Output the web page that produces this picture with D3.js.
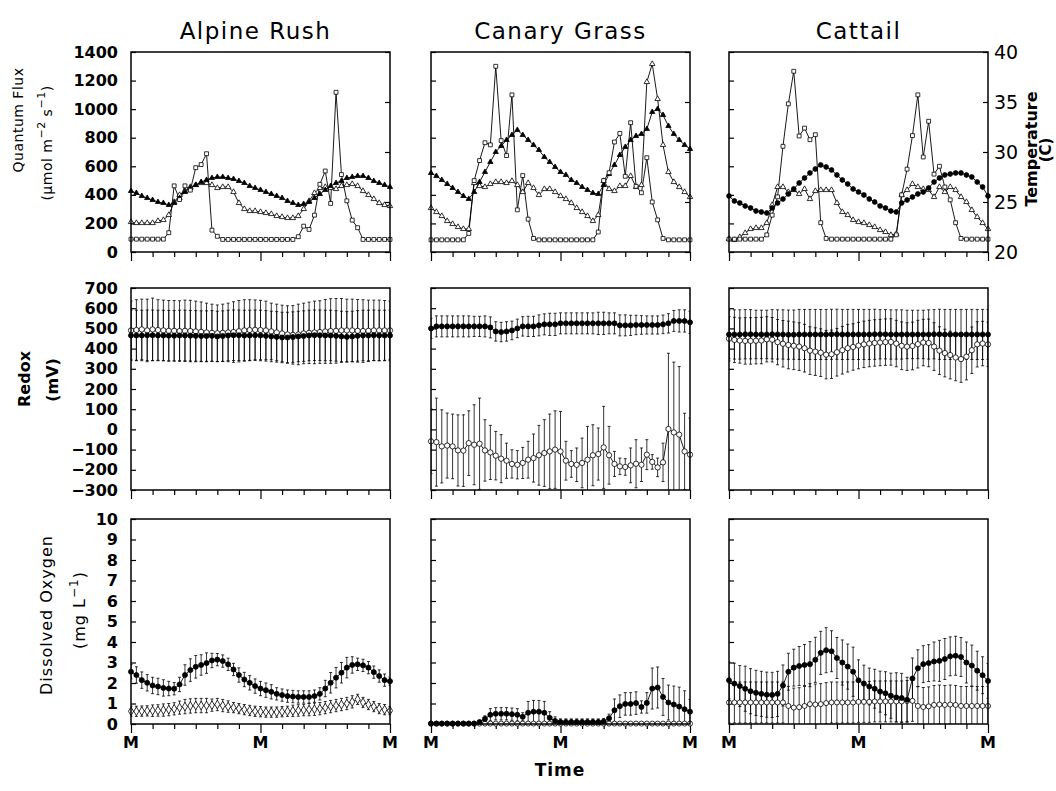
<!DOCTYPE html>
<html>
<head>
<meta charset="utf-8">
<script src="https://cdn.jsdelivr.net/npm/d3@7"></script>
<style>
  body { margin: 0; background: #fff; }
</style>
</head>
<body>
<div id="chart"></div>
<script>
// Diel quantum flux / temperature, redox and dissolved oxygen for three plants (hourly, two days)

const hours = d3.range(0, 49);
const plants = ["Alpine Rush", "Canary Grass", "Cattail"];

// ---- Row 1: quantum flux (umol m-2 s-1) and two temperatures (C)
const alpineFlux = [90,90,90,90,90,90,90,135,463,367, 463,433,590,612,688,153,110,88,88,88,
  88,88,88,88,88,88,88,88,88,88, 88,107,181,158,258,474,567,340,1118,542, 358,223,170,88,88,88,88,88,88];
const alpineTempA = [26.1,25.9,25.6,25.4,25.2,25.0,24.9,24.7,24.9,25.4, 26.0,26.4,26.7,27.0,27.2,27.4,27.5,27.5,27.4,27.3,
  27.1,26.9,26.6,26.4,26.2,26.0,25.8,25.6,25.4,25.1, 24.9,24.7,24.8,25.0,25.4,25.8,26.2,26.6,26.9,27.1,
  27.4,27.5,27.6,27.6,27.4,27.1,26.9,26.7,26.5];
const alpineTempB = [23.0,22.9,22.9,22.9,22.9,23.1,23.2,23.7,25.0,25.7, 26.1,26.5,26.7,26.9,26.9,26.7,26.4,26.5,26.5,26.0,
  24.9,24.3,24.1,24.1,24.0,23.9,23.8,23.6,23.5,23.4, 23.4,23.6,24.3,25.1,25.9,26.4,26.5,26.4,26.3,26.6,
  26.7,26.8,26.6,26.1,25.7,25.3,24.9,24.7,24.6];

const canaryFlux = [85,85,85,85,85,85,85,130,500,640, 765,750,1300,780,675,1100,295,535,230,95,
  85,85,85,85,85,85,85,85,85,85, 85,140,500,555,770,830,530,905,460,415, 660,350,225,95,85,85,85,85,85];
const canaryTempA = [27.9,27.6,27.2,26.8,26.4,26.0,25.6,25.3,26.0,27.0, 28.0,29.0,30.0,30.6,31.2,31.7,32.2,31.7,31.2,30.7,
  30.2,29.5,29.0,28.5,28.0,27.7,27.2,26.9,26.5,26.2, 25.9,25.8,26.7,27.8,28.7,29.7,30.5,31.2,31.6,31.8,
  32.3,34.0,34.3,33.7,32.6,31.8,31.2,30.7,30.3];
const canaryTempB = [24.4,24.0,23.6,23.1,22.8,22.5,22.3,22.3,26.9,26.6, 26.5,26.8,27.0,27.0,26.9,27.1,26.7,26.0,26.9,26.4,
  25.7,26.3,26.3,26.0,25.6,25.3,24.9,24.4,24.0,23.6, 23.1,23.7,27.1,26.3,26.1,26.6,26.6,27.6,26.5,26.7,
  37.0,38.8,35.3,30.7,28.0,27.0,26.5,26.0,25.5];

const cattailFlux = [90,90,90,90,90,90,90,120,258,386, 740,1037,1265,812,867,786,821,205,95,90,
  90,90,90,90,90,90,90,90,90,90, 90,120,400,580,815,1100,665,915,545,600, 455,365,205,95,90,90,90,90,90];
const cattailTempA = [25.6,25.1,24.9,24.6,24.4,24.1,24.0,23.9,24.4,24.9, 25.3,25.8,26.3,26.9,27.4,27.9,28.3,28.7,28.5,28.2,
  27.7,27.2,26.8,26.3,26.0,25.7,25.3,25.0,24.6,24.4, 24.1,24.0,24.9,25.2,25.5,25.8,26.0,26.4,27.0,27.4,
  27.7,27.8,27.9,27.9,27.7,27.5,27.0,26.5,25.6];
const cattailTempB = [21.3,21.2,21.5,21.9,22.3,22.4,22.4,22.9,24.7,26.5, 26.5,26.0,26.2,25.8,26.3,25.3,26.1,26.2,26.2,26.2,
  24.9,24.0,23.7,23.2,23.0,22.9,22.7,22.5,22.2,22.0, 21.7,21.8,25.7,26.2,26.8,26.5,26.3,26.2,25.5,26.5,
  26.0,26.5,26.2,25.5,25.0,24.2,23.5,22.9,22.3];

// ---- Row 2: redox (mV), mean and error
const alpineRedoxOpen = [490,492,495,490,495,492,490,488,488,487, 488,487,485,483,480,478,476,478,480,482,
  486,490,492,493,492,490,485,480,475,470, 468,470,475,478,480,482,485,487,488,490, 490,490,488,487,488,490,490,490,490];
const alpineRedoxOpenErr = [145,150,150,155,155,150,150,150,150,150, 152,152,150,148,145,142,140,142,145,150,
  152,152,150,148,147,145,140,140,140,142, 145,150,150,152,155,155,158,160,160,158, 155,155,155,155,152,150,150,148,145];
const alpineRedoxFilled = [465,465,465,466,466,465,465,464,464,465, 465,464,463,462,462,463,460,462,465,466,
  466,465,465,466,465,463,460,458,455,455, 457,460,462,465,466,466,465,465,463,460, 458,460,463,465,465,466,465,465,465];
const alpineRedoxFilledErr = [125,125,125,125,125,125,125,125,125,125, 125,125,125,125,125,125,125,125,125,125,
  125,125,125,125,125,125,125,125,125,125, 125,125,125,125,125,125,125,125,125,125, 125,125,125,125,125,125,125,125,125];

const canaryRedoxFilled = [500,510,510,510,510,510,510,510,510,510, 510,505,485,482,485,490,500,510,510,510,
  515,520,520,520,525,525,525,525,525,525, 525,525,525,525,525,515,515,515,517,517, 517,517,517,520,525,537,537,537,530];
const canaryRedoxFilledErr = [50,52,52,52,52,52,52,52,50,50, 52,52,48,48,48,46,46,48,50,50,
  52,52,55,55,52,52,52,52,52,52, 52,55,55,52,52,52,52,50,48,46, 45,45,45,46,48,52,55,55,55];
const canaryRedoxOpen = [-59,-63,-84,-80,-84,-104,-105,-68,-76,-71, -104,-114,-130,-145,-155,-171,-175,-166,-150,-142,
  -128,-117,-109,-100,-109,-155,-171,-175,-166,-150, -128,-122,-89,-128,-171,-183,-186,-178,-170,-175,
  -125,-161,-188,-163,2,-15,-26,-109,-125];
const canaryRedoxOpenErr = [160,218,181,161,160,176,177,160,198,226, 152,134,120,119,87,70,70,77,91,119,
  148,165,185,192,198,96,66,83,123,165, 151,129,203,143,62,41,41,86,119,83, 74,36,46,95,375,348,337,189,181];

const cattailRedoxFilled = [470,470,470,471,471,470,470,470,471,470, 470,469,469,470,470,470,470,470,470,471,
  471,470,470,470,470,470,470,471,471,471, 470,470,470,470,470,470,470,470,471,471, 470,470,470,470,470,470,470,470,470];
const cattailRedoxFilledErr = [120,122,122,122,122,120,120,120,122,122, 122,122,122,124,124,124,124,124,124,124,
  124,124,124,124,124,124,124,124,122,122, 122,122,122,120,120,120,120,122,122,124, 124,124,124,124,124,124,124,124,124];
const cattailRedoxOpen = [449,443,440,438,438,439,440,446,444,432, 424,418,414,410,402,390,385,380,370,372,
  382,392,402,408,415,421,425,428,430,432, 433,425,414,410,413,422,430,428,410,390, 378,368,356,348,360,392,421,425,421];
const cattailRedoxOpenErr = [110,112,112,115,115,115,115,112,110,112, 115,118,118,118,118,118,118,118,120,120,
  118,118,118,115,115,115,115,115,115,115, 115,115,118,118,118,118,115,118,118,118, 118,118,115,115,115,115,112,110,110];

// ---- Row 3: dissolved oxygen (mg L-1), mean and error
const alpineDOFilled = [2.55,2.39,2.14,2.01,1.88,1.83,1.76,1.73,1.72,1.93, 2.39,2.63,2.79,2.88,2.97,3.10,3.14,3.07,2.91,2.66,
  2.39,2.17,2.01,1.85,1.73,1.65,1.57,1.47,1.41,1.36, 1.34,1.32,1.32,1.32,1.36,1.47,1.73,2.01,2.26,2.50,
  2.75,2.88,2.91,2.86,2.75,2.53,2.34,2.14,2.09];
const alpineDOFilledErr = [0.35,0.40,0.40,0.40,0.40,0.40,0.40,0.35,0.30,0.35, 0.50,0.55,0.55,0.50,0.50,0.35,0.30,0.30,0.30,0.30,
  0.35,0.35,0.35,0.35,0.35,0.35,0.35,0.30,0.30,0.30, 0.30,0.30,0.30,0.30,0.30,0.30,0.40,0.50,0.50,0.50,
  0.50,0.40,0.30,0.30,0.30,0.30,0.30,0.30,0.20];
const alpineDOOpen = [0.62,0.62,0.63,0.64,0.65,0.66,0.68,0.70,0.74,0.80, 0.85,0.88,0.90,0.90,0.90,0.92,0.95,0.90,0.85,0.80,
  0.75,0.70,0.66,0.62,0.60,0.58,0.58,0.58,0.60,0.62, 0.64,0.66,0.68,0.70,0.72,0.75,0.80,0.85,0.90,0.95,
  1.00,1.08,1.20,1.05,0.95,0.85,0.75,0.70,0.65];
const alpineDOOpenErr = [0.25,0.25,0.25,0.25,0.28,0.28,0.30,0.30,0.30,0.32, 0.35,0.35,0.35,0.35,0.35,0.30,0.30,0.30,0.28,0.25,
  0.25,0.25,0.25,0.25,0.25,0.25,0.25,0.25,0.25,0.25, 0.28,0.28,0.28,0.30,0.30,0.30,0.30,0.30,0.30,0.30,
  0.30,0.30,0.25,0.25,0.25,0.25,0.25,0.25,0.20];

const canaryDOFilled = [0.02,0.02,0.02,0.02,0.02,0.02,0.02,0.02,0.02,0.10, 0.25,0.45,0.50,0.50,0.50,0.48,0.45,0.35,0.55,0.60,
  0.60,0.55,0.30,0.15,0.10,0.10,0.10,0.10,0.10,0.10, 0.10,0.10,0.12,0.28,0.67,0.87,0.98,0.98,1.02,0.83,
  1.03,1.73,1.78,1.32,1.05,0.95,0.85,0.72,0.60];
const canaryDOFilledErr = [0,0,0,0,0,0,0,0,0,0, 0.15,0.30,0.30,0.30,0.30,0.30,0.30,0.20,0.55,0.55,
  0.55,0.55,0.30,0.20,0.15,0.15,0.15,0.15,0.15,0.15, 0.15,0.15,0.15,0.20,0.55,0.55,0.55,0.55,0.55,0.30,
  0.50,1.00,1.00,0.90,0.85,0.90,0.95,0.90,0.60];
const canaryDOOpen = [0.02,0.02,0.02,0.02,0.02,0.02,0.02,0.02,0.02,0.02, 0.02,0.02,0.02,0.02,0.02,0.02,0.02,0.02,0.02,0.02,
  0.02,0.02,0.02,0.02,0.02,0.02,0.02,0.02,0.02,0.02, 0.02,0.02,0.02,0.02,0.02,0.02,0.02,0.02,0.02,0.02,
  0.02,0.02,0.02,0.02,0.02,0.02,0.02,0.02,0.02];

const cattailDOFilled = [2.13,1.97,1.85,1.72,1.60,1.52,1.47,1.43,1.42,1.47, 1.88,2.55,2.75,2.83,2.88,2.92,3.13,3.47,3.60,3.55,
  3.22,3.00,2.80,2.55,2.13,1.97,1.83,1.72,1.58,1.50, 1.38,1.30,1.27,1.18,2.22,2.72,2.92,2.97,3.05,3.08,
  3.17,3.30,3.33,3.27,3.00,2.85,2.60,2.38,2.10];
const cattailDOFilledErr = [0.90,1.00,1.00,1.10,1.10,1.10,1.10,1.10,1.10,1.10, 1.00,0.90,0.90,0.95,1.00,1.10,1.10,1.05,1.10,1.00,
  1.00,1.10,1.10,1.20,1.00,0.90,0.90,0.95,1.00,1.05, 1.10,1.20,1.20,1.10,1.00,0.90,0.90,0.90,0.95,1.00,
  1.00,0.95,0.95,0.95,1.00,1.00,0.95,0.90,0.85];
const cattailDOOpen = [1.05,1.05,1.05,1.05,1.05,1.05,1.05,1.05,1.05,1.05, 1.05,0.88,0.80,0.82,0.88,0.97,0.95,0.97,1.02,1.05,
  1.05,1.05,1.05,1.05,1.08,1.08,1.08,1.10,1.10,1.10, 1.10,1.10,1.10,1.12,1.13,0.88,0.83,0.86,0.93,0.95,
  0.93,0.95,0.93,0.88,0.88,0.88,0.88,0.88,0.88];
const cattailDOOpenErr = [1.00,1.00,1.00,1.00,1.00,1.00,1.00,1.00,1.00,1.00, 1.00,0.95,0.95,0.95,0.95,1.00,1.00,1.00,1.00,1.00,
  1.00,1.00,1.00,1.00,1.00,1.00,1.00,1.00,1.00,1.00, 1.00,1.00,1.00,1.00,1.00,0.95,0.95,0.95,0.95,0.95,
  0.95,0.95,0.95,0.95,0.95,0.95,0.95,0.95,0.95];

// ---- tick values
const fluxTicks = [0,200,400,600,800,1000,1200,1400];
const tempTicks = [20,25,30,35,40];
const redoxTicks = [-300,-200,-100,0,100,200,300,400,500,600,700];
const doTicks = [0,1,2,3,4,5,6,7,8,9,10];
const timeTicks = [0,4,8,12,16,20,24,28,32,36,40,44,48];
const midnights = [0,24,48];

// ---- layout
const W = 1056, H = 791;
const FONT = "'DejaVu Sans', Verdana, sans-serif";
const colX = [131, 431, 729];
const colW = 259;
const rows = [
  { top: 52, bottom: 252 },
  { top: 288, bottom: 490 },
  { top: 519, bottom: 724 }
];

const svg = d3.select("#chart").append("svg")
  .attr("width", W).attr("height", H)
  .style("background", "#fff");

const x = d3.scaleLinear().domain([0, 48]).range([0, colW]);

const shapes = {
  square: d3.symbolSquare,
  triangle: d3.symbolTriangle,
  circle: d3.symbolCircle,
  diamond: d3.symbolDiamond
};

function styleTicks(a, show) {
  a.select(".domain").remove();
  a.selectAll(".tick line").attr("stroke", "#000").attr("stroke-width", 1.2);
  a.selectAll("text")
    .attr("fill", "#000")
    .attr("font-family", FONT)
    .attr("font-weight", "bold")
    .attr("font-size", 16)
    .style("display", show ? null : "none");
}

function drawPanel(ri, ci, leftScale, leftTicks, series, rightScale) {
  const r = rows[ri];
  const h = r.bottom - r.top;
  const g = svg.append("g").attr("transform", `translate(${colX[ci]},${r.top})`);

  const clipId = `clip-${ri}-${ci}`;
  g.append("clipPath").attr("id", clipId)
    .append("rect").attr("width", colW).attr("height", h);

  // left ticks (inside)
  g.append("g")
    .call(d3.axisLeft(leftScale).tickValues(leftTicks).tickSize(-5).tickPadding(13).tickFormat(d3.format("d")))
    .call(a => styleTicks(a, ci === 0));

  // right temperature ticks (top row)
  if (rightScale) {
    g.append("g").attr("transform", `translate(${colW},0)`)
      .call(d3.axisRight(rightScale).tickValues(tempTicks).tickSize(-5).tickPadding(6).tickFormat(d3.format("d")))
      .call(a => styleTicks(a, ci === 2))
      .call(a => a.selectAll("text").attr("font-weight", "normal").attr("font-size", 19));
  }

  // bottom time ticks (outside), longer at midnight
  g.append("g").attr("transform", `translate(0,${h})`)
    .call(d3.axisBottom(x).tickValues(timeTicks).tickSize(5).tickFormat(""))
    .call(a => styleTicks(a, false))
    .call(a => a.selectAll(".tick line").attr("y2", d => midnights.includes(d) ? 9 : 5));

  if (ri === 2) {
    g.selectAll("text.mlabel")
      .data(midnights)
      .join("text")
      .attr("class", "mlabel")
      .attr("x", d => x(d))
      .attr("y", h + 24)
      .attr("text-anchor", "middle")
      .attr("font-family", FONT)
      .attr("font-weight", "bold")
      .attr("font-size", 16)
      .text("M");
  }

  const plots = series.map(s => ({
    s,
    pts: s.values.map((v, i) => ({ h: hours[i], v, e: s.errors ? s.errors[i] : 0 }))
  }));

  // error bars
  const eb = g.append("g").attr("clip-path", `url(#${clipId})`);
  plots.filter(p => p.s.errors).forEach(({ s, pts }) => {
    const bars = eb.append("g").selectAll("g").data(pts.filter(d => d.e > 0)).join("g");
    bars.append("line")
      .attr("x1", d => x(d.h)).attr("x2", d => x(d.h))
      .attr("y1", d => s.y(d.v - d.e)).attr("y2", d => s.y(d.v + d.e))
      .attr("stroke", "#000").attr("stroke-width", 0.8);
    [-1, 1].forEach(sign => {
      bars.append("line")
        .attr("x1", d => x(d.h) - 1.5).attr("x2", d => x(d.h) + 1.5)
        .attr("y1", d => s.y(d.v + sign * d.e)).attr("y2", d => s.y(d.v + sign * d.e))
        .attr("stroke", "#000").attr("stroke-width", 0.8);
    });
  });

  // lines
  const line = s => d3.line().x(d => x(d.h)).y(d => s.y(d.v));
  plots.forEach(({ s, pts }) => {
    g.append("path").datum(pts)
      .attr("d", line(s))
      .attr("fill", "none")
      .attr("stroke", "#000")
      .attr("stroke-width", 0.9);
  });

  // markers
  plots.forEach(({ s, pts }) => {
    g.append("g").selectAll("path").data(pts).join("path")
      .attr("transform", d => `translate(${x(d.h)},${s.y(d.v)})`)
      .attr("d", d3.symbol().type(shapes[s.shape]).size(s.size))
      .attr("fill", s.filled ? "#000" : "#fff")
      .attr("stroke", "#000")
      .attr("stroke-width", 0.8);
  });

  // frame
  g.append("rect")
    .attr("width", colW).attr("height", h)
    .attr("fill", "none").attr("stroke", "#000").attr("stroke-width", 1.5);
}

// ---- scales per row
function rowScale(ri, domain) {
  return d3.scaleLinear().domain(domain).range([rows[ri].bottom - rows[ri].top, 0]);
}
const yFlux = rowScale(0, [0, 1400]);
const yTemp = rowScale(0, [20, 40]);
const yRedox = rowScale(1, [-300, 700]);
const yDO = rowScale(2, [0, 10]);

const topSeries = [
  [alpineFlux, alpineTempA, alpineTempB, "triangle"],
  [canaryFlux, canaryTempA, canaryTempB, "triangle"],
  [cattailFlux, cattailTempA, cattailTempB, "circle"]
];
topSeries.forEach(([flux, tA, tB, shapeA], ci) => {
  drawPanel(0, ci, yFlux, fluxTicks, [
    { values: tB, y: yTemp, shape: "triangle", filled: false, size: 13 },
    { values: tA, y: yTemp, shape: shapeA, filled: true, size: shapeA === "circle" ? 18 : 12 },
    { values: flux, y: yFlux, shape: "square", filled: false, size: 15 }
  ], yTemp);
});

const redoxSeries = [
  [alpineRedoxOpen, alpineRedoxOpenErr, alpineRedoxFilled, alpineRedoxFilledErr],
  [canaryRedoxOpen, canaryRedoxOpenErr, canaryRedoxFilled, canaryRedoxFilledErr],
  [cattailRedoxOpen, cattailRedoxOpenErr, cattailRedoxFilled, cattailRedoxFilledErr]
];
redoxSeries.forEach(([o, oe, f, fe], ci) => {
  drawPanel(1, ci, yRedox, redoxTicks, [
    { values: o, errors: oe, y: yRedox, shape: "circle", filled: false, size: 22 },
    { values: f, errors: fe, y: yRedox, shape: "circle", filled: true, size: 20 }
  ]);
});

const doSeries = [
  [alpineDOOpen, alpineDOOpenErr, "diamond", alpineDOFilled, alpineDOFilledErr],
  [canaryDOOpen, null, "circle", canaryDOFilled, canaryDOFilledErr],
  [cattailDOOpen, cattailDOOpenErr, "circle", cattailDOFilled, cattailDOFilledErr]
];
doSeries.forEach(([o, oe, oShape, f, fe], ci) => {
  drawPanel(2, ci, yDO, doTicks, [
    { values: o, errors: oe, y: yDO, shape: oShape, filled: false, size: oShape === "diamond" ? 22 : 20 },
    { values: f, errors: fe, y: yDO, shape: "circle", filled: true, size: 20 }
  ]);
});

// ---- column titles
svg.selectAll("text.title")
  .data(plants)
  .join("text")
  .attr("class", "title")
  .attr("x", (d, i) => colX[i] + colW / 2 - (i === 0 ? 5 : 0))
  .attr("y", 39)
  .attr("text-anchor", "middle")
  .attr("font-family", FONT)
  .attr("font-size", 23)
  .attr("letter-spacing", 1.5)
  .text(d => d);

// ---- axis titles
function vText(cx, cy, size, weight, spacing) {
  return svg.append("text")
    .attr("transform", `translate(${cx},${cy}) rotate(-90)`)
    .attr("text-anchor", "middle")
    .attr("dy", "0.35em")
    .attr("font-family", FONT)
    .attr("font-size", size)
    .attr("font-weight", weight)
    .attr("letter-spacing", spacing);
}

vText(18, 120, 14, "normal", 0.5).text("Quantum Flux");
const qf2 = vText(47, 143, 14, "normal", 0.5);
qf2.append("tspan").text("(\u03bcmol m");
qf2.append("tspan").attr("dy", -7).attr("font-size", 11).text("\u22122");
qf2.append("tspan").attr("dy", 7).text(" s");
qf2.append("tspan").attr("dy", -7).attr("font-size", 11).text("\u22121");
qf2.append("tspan").attr("dy", 7).text(")");

vText(24, 379, 16, "bold", 0).text("Redox");
vText(52, 380, 16, "bold", 0).text("(mV)");

vText(46, 615, 16, "normal", 1).text("Dissolved Oxygen");
const do2 = vText(79, 610, 16, "normal", 1);
do2.append("tspan").text("(mg L");
do2.append("tspan").attr("dy", -7).attr("font-size", 12).text("\u22121");
do2.append("tspan").attr("dy", 7).text(")");

vText(1031, 149, 16, "bold", 0).text("Temperature");
vText(1046, 150, 15, "bold", 0).text("(C)");

svg.append("text")
  .attr("x", 560).attr("y", 776)
  .attr("text-anchor", "middle")
  .attr("font-family", FONT)
  .attr("font-size", 17)
  .attr("font-weight", "bold")
  .attr("letter-spacing", 1)
  .text("Time");
</script>
</body>
</html>
